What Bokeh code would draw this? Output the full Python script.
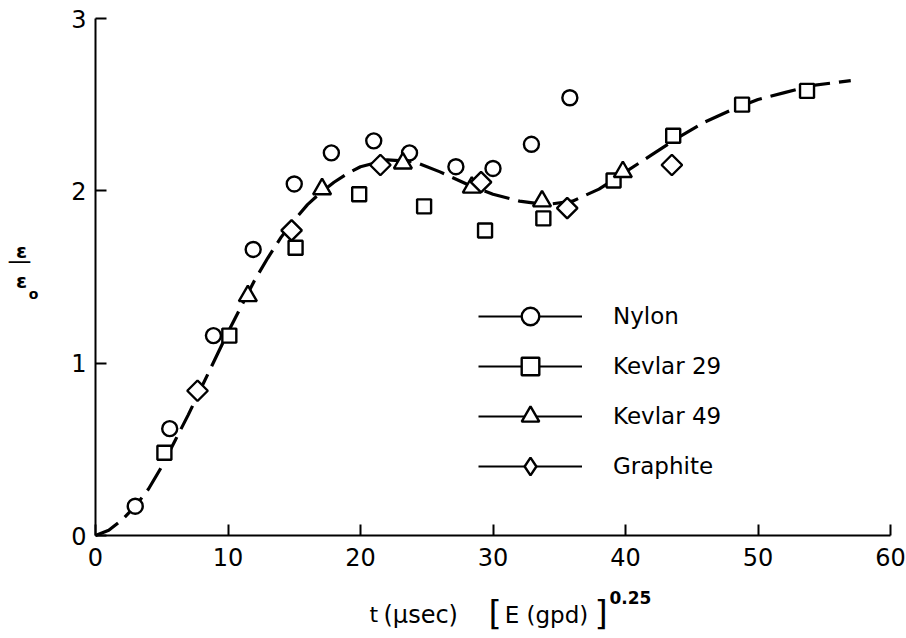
import numpy as np
from bokeh.plotting import figure
from bokeh.models import Range1d, Legend, LegendItem, Label
from bokeh.embed import file_html
from bokeh.resources import INLINE

# ---- data ----
nylon_x = [3.0, 5.6, 8.9, 11.9, 15.0, 17.8, 21.0, 23.7, 27.2, 30.0, 32.9, 35.8]
nylon_y = [0.17, 0.62, 1.16, 1.66, 2.04, 2.22, 2.29, 2.22, 2.14, 2.13, 2.27, 2.54]

k29_x = [5.2, 10.1, 15.1, 19.9, 24.8, 29.4, 33.8, 39.1, 43.6, 48.8, 53.7]
k29_y = [0.48, 1.16, 1.67, 1.98, 1.91, 1.77, 1.84, 2.06, 2.32, 2.50, 2.58]

k49_x = [11.5, 17.1, 23.2, 28.4, 33.7, 39.8]
k49_y = [1.39, 2.01, 2.16, 2.02, 1.94, 2.11]

gra_x = [7.7, 14.8, 21.5, 29.1, 35.6, 43.5]
gra_y = [0.84, 1.77, 2.15, 2.05, 1.90, 2.15]

curve_x = [0, 1, 2, 3, 4, 5, 6, 7, 8, 9, 10, 11, 12, 13, 14, 15, 16, 17, 18, 19,
           20, 22, 24, 26, 28, 30, 32, 34, 36, 38, 40, 42, 44, 46, 48, 50, 52, 54, 56, 57]
curve_y = [0, 0.03, 0.09, 0.17, 0.27, 0.40, 0.55, 0.70, 0.86, 1.02, 1.18, 1.33, 1.48,
           1.61, 1.73, 1.83, 1.92, 1.99, 2.05, 2.10, 2.14, 2.18, 2.17, 2.11, 2.04, 1.98,
           1.94, 1.92, 1.94, 2.01, 2.11, 2.21, 2.31, 2.40, 2.47, 2.53, 2.57, 2.61, 2.63, 2.64]

x_ticks = [0, 10, 20, 30, 40, 50, 60]
y_ticks = [0, 1, 2, 3]
series_names = ["Nylon", "Kevlar 29", "Kevlar 49", "Graphite"]

FONT = "DejaVu Sans"

# page geometry of the reference axes: x 0..60 -> px 95..890, y 0..3 -> px 535..18
W, H = 906, 638
PX0, PX60, PY0, PY3 = 95.0, 890.0, 535.0, 18.0
sx = (PX60 - PX0) / 60.0
sy = (PY0 - PY3) / 3.0
x_lo, x_hi = -PX0 / sx, (W - PX0) / sx
y_lo, y_hi = -(H - PY0) / sy, PY0 / sy

p = figure(width=W, height=H, output_backend="svg", toolbar_location=None,
           x_range=Range1d(x_lo, x_hi), y_range=Range1d(y_lo, y_hi),
           min_border=0, min_border_left=0, min_border_right=0,
           min_border_top=0, min_border_bottom=0)
p.outline_line_color = None
p.xgrid.visible = False
p.ygrid.visible = False
p.background_fill_color = "white"
p.border_fill_color = "white"

p.xaxis.fixed_location = 0
p.yaxis.fixed_location = 0
p.xaxis.bounds = (0, 60)
p.yaxis.bounds = (0, 3)

for ax, ticks in ((p.xaxis, x_ticks), (p.yaxis, y_ticks)):
    ax.ticker = ticks
    ax.axis_line_width = 2
    ax.axis_line_color = "black"
    ax.major_tick_line_width = 2
    ax.major_tick_line_color = "black"
    ax.major_tick_in = 11
    ax.major_tick_out = 0
    ax.minor_tick_line_color = None
    ax.major_label_text_font = FONT
    ax.major_label_text_font_size = "24px"
    ax.major_label_text_color = "black"
p.xaxis.major_label_standoff = 12
p.yaxis.major_label_standoff = 9

# fitted curve
p.line(curve_x, curve_y, line_color="black", line_width=3.2, line_dash="26 9")

LW = 2.4
r_ny = p.scatter(nylon_x, nylon_y, marker="circle", size=15, fill_color="white",
                 line_color="black", line_width=LW)
r_29 = p.scatter(k29_x, k29_y, marker="square", size=14, fill_color="white",
                 line_color="black", line_width=LW)
r_49 = p.scatter(k49_x, k49_y, marker="triangle", size=18, fill_color="white",
                 line_color="black", line_width=LW)
r_gr = p.scatter(gra_x, gra_y, marker="square", angle=np.pi / 4, size=14.5, fill_color="white",
                 line_color="black", line_width=LW)
# legend-only diamond symbol (a rotated square is not rotated inside the legend)
r_gr_leg = p.scatter([np.nan], [np.nan], marker="diamond", size=20, fill_color="white",
                     line_color="black", line_width=LW)

items = []
for name, r in zip(series_names, [r_ny, r_29, r_49, r_gr_leg]):
    dummy = p.line([np.nan, np.nan], [np.nan, np.nan], line_color="black", line_width=2)
    items.append(LegendItem(label=name, renderers=[dummy, r]))

legend = Legend(items=items, location=(478, 150), orientation="vertical",
                glyph_width=104, glyph_height=44, label_height=44, spacing=6,
                label_standoff=31, padding=0, margin=0,
                border_line_color=None, background_fill_alpha=0,
                label_text_font=FONT, label_text_font_size="23px",
                label_text_color="black")
p.add_layout(legend)


def lab(px, py, text, size, bold=False, align="left"):
    p.add_layout(Label(x=(px - PX0) / sx, y=(PY0 - py) / sy,
                       text=text, text_font=FONT, text_font_size=size,
                       text_font_style="bold" if bold else "normal",
                       text_align=align, text_baseline="middle", text_color="black"))

# x-axis label: t (μsec) [E (gpd)]^0.25
lab(369, 614, "t", "22px")
lab(383, 614, "(μsec)", "24px")
lab(488, 612, "[", "34px")
lab(546, 614, "E (gpd)", "23px", align="center")
lab(594, 612, "]", "34px")
lab(609, 597, "0.25", "17px", bold=True)

# y-axis label: ε / ε_o
lab(21, 250, "ε", "20px", bold=True, align="center")
lab(19, 260, "—", "24px", align="center")
lab(21, 280, "ε", "20px", bold=True, align="center")
lab(33, 293, "o", "14px", bold=True, align="center")

open("out.html", "w").write(file_html(p, INLINE))
